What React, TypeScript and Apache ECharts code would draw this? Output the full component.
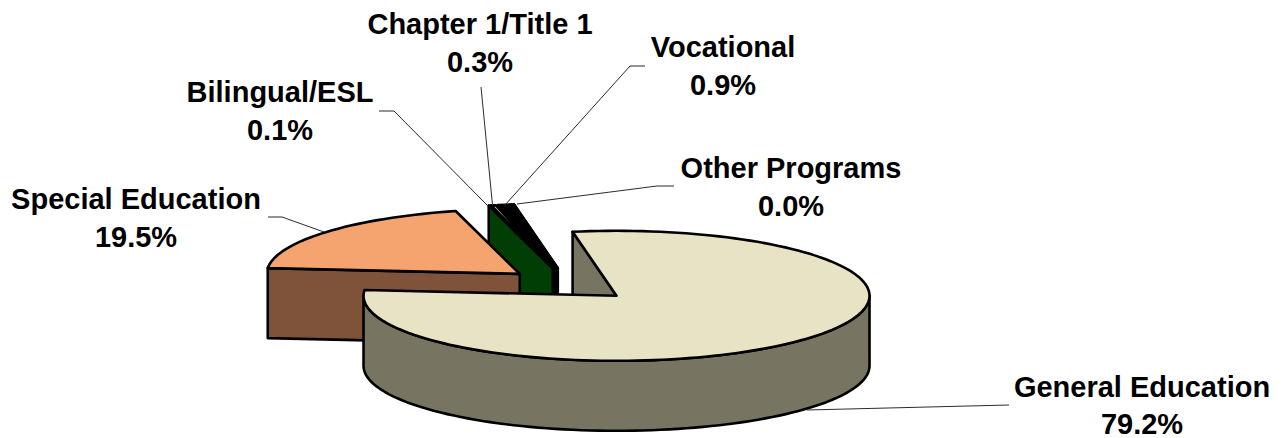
import React, { useEffect, useRef } from "react";
import * as echarts from "echarts";

const categories = ["General Education", "Special Education", "Bilingual/ESL", "Chapter 1/Title 1", "Vocational", "Other Programs"];
const shares = [79.2, 19.5, 0.1, 0.3, 0.9, 0.0];
// painter's order: back slices first, General Education last
const drawOrder = [5, 4, 3, 2, 1, 0];
const topColors = ["#E9E3C5", "#F5A36F", "#00FF00", "#C8C8C8", "#000000", "#000000"];
const sideColors = ["#777461", "#7E5339", "#003E06", "#555555", "#000000", "#000000"];

const START_T = 100; // parametric angle on the ellipse where the first slice starts
const CX = 569, CY = 284.6, RX = 253, RY = 65, DEPTH = 70, EXPLODE = 0.255;
const STROKE = { stroke: "#000", lineWidth: 2.6, lineJoin: "round" as const };
const FONT = { fontFamily: "'Liberation Sans', Arial, sans-serif", fontWeight: "bold" as const, fontSize: 29, lineHeight: 27, fill: "#000" };

// label layout: text centre x, name line y, percent line y; leader polyline points
const labelX = [1142, 136, 280, 480, 723, 791];
const nameY = [387, 199, 92, 24, 47, 168];
const pctY = [424, 237, 130, 62, 85, 206];
const leaders = [
  [[1009, 405], [807, 410]],
  [[268, 217], [282, 217], [324, 232]],
  [[379, 111], [394, 111], [487, 205]],
  [[481, 87], [492.5, 205]],
  [[645, 66], [630, 66], [505, 205]],
  [[674, 186], [657, 186], [517, 204]],
];

const rad = (d: number) => (d * Math.PI) / 180;

function sliceAngles(index: number) {
  const total = shares.reduce((a, b) => a + b, 0);
  const before = shares.slice(0, index).reduce((a, b) => a + b, 0);
  const t0 = START_T - (before / total) * 360;
  const t1 = t0 - (shares[index] / total) * 360;
  return { t0, t1 };
}

function renderSlice(params: any, api: any) {
  const index = api.value(0) as number;
  const { t0, t1 } = sliceAngles(index);
  const mid = rad((t0 + t1) / 2);
  const ax = CX + EXPLODE * RX * Math.cos(mid);
  const ay = CY - EXPLODE * RY * Math.sin(mid);
  const rim = (t: number, drop = 0): number[] => [ax + RX * Math.cos(rad(t)), ay - RY * Math.sin(rad(t)) + drop];
  const arc = (a: number, b: number, drop = 0) => {
    const n = Math.max(2, Math.ceil(Math.abs(a - b) / 2));
    const out: number[][] = [];
    for (let i = 0; i <= n; i++) out.push(rim(a + ((b - a) * i) / n, drop));
    return out;
  };
  const side = { fill: sideColors[index], ...STROKE };
  const children: any[] = [];
  const wall = (t: number) => ({
    type: "polygon",
    shape: { points: [rim(t), [ax, ay], [ax, ay + DEPTH], rim(t, DEPTH)] },
    style: side,
  });
  if (Math.cos(rad(t0)) < 0) children.push(wall(t0));
  if (Math.cos(rad(t1)) > 0) children.push(wall(t1));
  // outer wall: only the front half of the rim (sin t < 0) is seen
  const fa = Math.min(t0, 0);
  const fb = Math.max(t1, -180);
  if (fa > fb) {
    children.push({
      type: "polygon",
      shape: { points: [...arc(fa, fb), ...arc(fb, fa, DEPTH)] },
      style: side,
    });
  }
  children.push({
    type: "polygon",
    shape: { points: [[ax, ay], ...arc(t0, t1)] },
    style: { fill: topColors[index], ...STROKE },
  });
  return { type: "group", children };
}

export default function App() {
  const ref = useRef<HTMLDivElement>(null);
  useEffect(() => {
    const chart = echarts.init(ref.current!, undefined, { renderer: "svg" });
    const lineText = (text: string, x: number, y: number) => ({
      type: "text",
      z: 11,
      x,
      y,
      style: { ...FONT, text, align: "center", verticalAlign: "middle" },
    });
    chart.setOption({
      animation: false,
      backgroundColor: "#fff",
      series: [
        {
          type: "custom",
          coordinateSystem: "none",
          silent: true,
          renderItem: renderSlice,
          data: drawOrder.map((i) => [i, shares[i]]),
        },
      ],
      graphic: [
        ...leaders.map((points) => ({
          type: "polyline",
          z: 10,
          shape: { points },
          style: { stroke: "#2b2b2b", lineWidth: 1, fill: "none" },
        })),
        ...categories.map((name, i) => lineText(name, labelX[i], nameY[i])),
        ...categories.map((_, i) => lineText(`${shares[i].toFixed(1)}%`, labelX[i], pctY[i])),
      ],
    });
    return () => chart.dispose();
  }, []);
  return <div ref={ref} style={{ position: "absolute", left: 0, top: 0, width: 1287, height: 438 }} />;
}
